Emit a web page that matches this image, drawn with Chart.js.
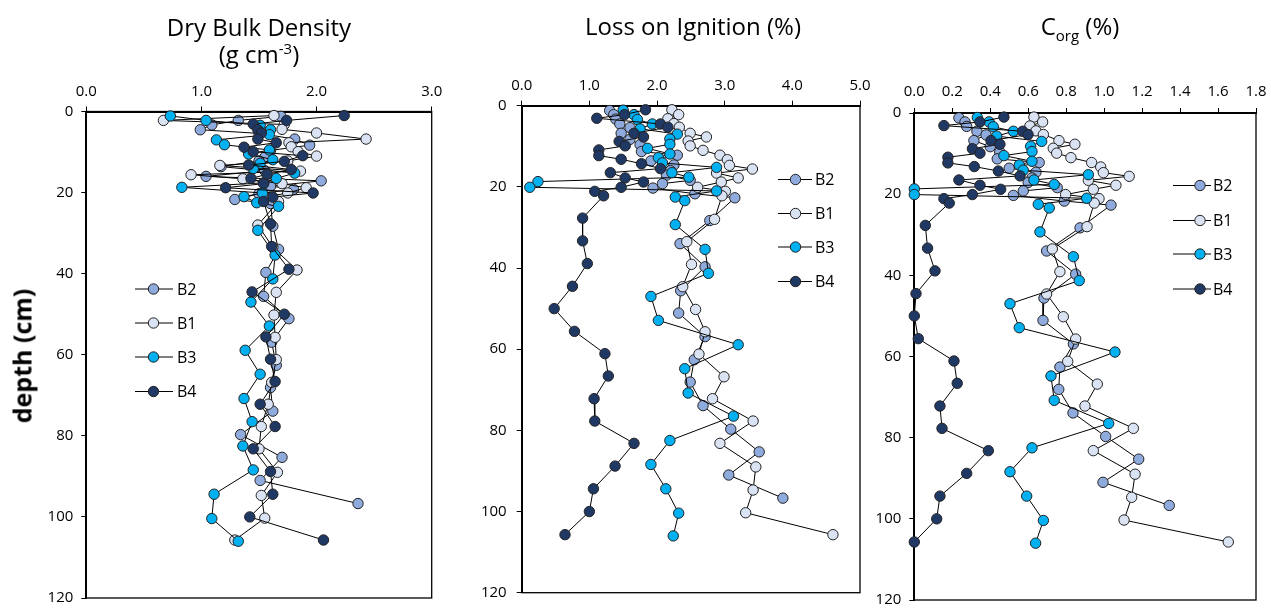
<!DOCTYPE html>
<html><head><meta charset="utf-8">
<script src="https://cdn.jsdelivr.net/npm/chart.js@4.4.1/dist/chart.umd.min.js"></script>
<style>
html,body{margin:0;padding:0;background:#fff;}
#wrap{position:relative;width:1271px;height:609px;overflow:hidden;font-family:'Open Sans',Lato,sans-serif;color:#000;}
canvas{position:absolute;left:0;top:0;}
.title{position:absolute;font-size:24px;line-height:24px;white-space:nowrap;transform:translateX(-50%);}
.title sup,.title sub{font-size:15px;line-height:0;}
.ylab{position:absolute;font-weight:bold;font-size:25px;line-height:25px;white-space:nowrap;left:22px;top:356px;transform:translate(-50%,-50%) rotate(-90deg);}
</style></head>
<body><div id="wrap">
<canvas id="c1" width="1271" height="609"></canvas>
<canvas id="c2" width="1271" height="609"></canvas>
<canvas id="c3" width="1271" height="609"></canvas>
<div class="title" style="left:259px;top:14.5px">Dry Bulk Density</div>
<div class="title" style="left:259px;top:41.5px">(g cm<sup>-3</sup>)</div>
<div class="title" style="left:693px;top:13.5px">Loss on Ignition (%)</div>
<div class="title" style="left:1080px;top:13.5px">C<sub>org</sub> (%)</div>
<div class="ylab">depth (cm)</div>
</div>
<script>
// ---------- depths (cm) per core ----------
const depthB1 = [1.0,2.2,3.2,4.4,5.3,6.8,7.7,8.7,9.9,11.0,12.2,13.3,14.7,15.6,16.6,17.8,18.8,20.1,21.1,22.2,28.0,33.5,39.1,44.6,50.2,55.7,61.2,66.8,72.2,77.7,83.2,89.0,94.7,100.3,105.7];
const depthB2 = [1.2,2.2,3.3,4.5,5.4,6.8,8.3,9.6,11.3,12.2,13.6,14.6,16.0,17.1,18.4,19.2,20.3,21.7,22.7,28.3,34.0,39.7,45.6,51.1,56.9,62.6,68.1,73.9,79.7,85.3,91.0,96.7];
const depthB3 = [1.1,2.2,3.4,4.5,5.7,7.0,8.2,9.5,10.5,11.9,12.8,14.1,15.2,16.5,17.6,18.7,20.1,21.0,22.5,23.4,29.3,35.4,41.3,47.0,52.9,58.9,64.8,70.8,76.5,82.5,88.4,94.4,100.4,106.0];
const depthB4 = [1.0,2.2,3.1,4.5,5.3,6.8,7.7,8.8,9.9,10.9,12.3,13.2,14.3,15.5,16.5,17.8,18.8,20.1,21.1,22.2,27.7,33.3,38.9,44.5,50.0,55.6,61.1,66.6,72.2,77.7,83.2,88.8,94.4,100.0,105.7];

// ---------- Dry bulk density (g cm-3) ----------
const dbdB1 = [1.63,0.67,1.72,1.70,2.00,2.43,1.76,1.78,1.84,2.00,1.75,1.16,1.86,0.91,1.36,1.70,1.91,1.75,1.55,1.67,1.49,1.62,1.83,1.65,1.63,1.64,1.65,1.61,1.58,1.52,1.50,1.66,1.52,1.55,1.29];
const dbdB2 = [1.69,1.32,1.09,0.99,1.50,1.81,1.94,1.60,1.55,1.50,1.17,1.55,1.04,2.04,1.60,1.80,1.50,1.29,1.60,1.62,1.67,1.56,1.54,1.76,1.61,1.65,1.60,1.62,1.34,1.70,1.51,2.36];
const dbdB3 = [0.73,1.04,1.51,1.60,1.59,1.13,1.20,1.59,1.41,1.62,1.51,1.45,1.81,1.65,1.54,0.83,1.53,1.37,1.48,1.67,1.49,1.64,1.62,1.43,1.59,1.38,1.51,1.37,1.44,1.36,1.45,1.11,1.09,1.32];
const dbdB4 = [2.24,1.74,1.45,1.49,1.52,1.49,1.65,1.37,1.45,1.88,1.72,1.41,1.78,1.57,1.43,1.54,1.21,1.97,1.62,1.54,1.60,1.61,1.76,1.44,1.72,1.56,1.60,1.64,1.51,1.64,1.45,1.60,1.62,1.42,2.06];

// ---------- Loss on ignition (%) ----------
const loiB1 = [2.22,2.32,2.16,2.25,2.33,2.49,2.73,2.46,2.49,2.68,2.93,3.04,3.07,3.41,2.88,3.20,2.95,2.60,3.01,2.96,2.85,2.44,2.51,2.38,2.57,2.71,2.62,2.99,2.82,3.42,2.93,3.46,3.42,3.31,4.60];
const loiB2 = [1.30,1.36,1.39,1.45,1.60,1.47,1.60,1.75,1.77,2.30,1.91,2.25,2.20,2.14,2.49,2.08,1.94,2.56,3.15,2.78,2.34,2.71,2.35,2.32,2.71,2.55,2.49,2.68,3.09,3.51,3.06,3.86];
const loiB3 = [1.50,1.66,1.71,1.93,1.75,2.30,2.19,2.19,1.86,2.19,2.02,2.08,2.88,2.22,2.47,0.24,0.12,2.88,2.27,2.41,2.27,2.71,2.76,1.91,2.02,3.20,2.41,2.46,3.13,2.19,1.91,2.13,2.32,2.24];
const loiB4 = [1.83,1.52,1.11,2.05,2.16,1.66,1.80,1.44,1.53,1.14,1.14,1.47,1.77,2.05,1.31,1.53,1.80,1.47,1.08,1.21,0.90,0.90,0.97,0.75,0.48,0.78,1.23,1.28,1.07,1.08,1.66,1.38,1.06,1.00,0.64];

// ---------- Organic carbon (%) ----------
const corgB1 = [0.630,0.676,0.609,0.641,0.680,0.762,0.846,0.732,0.750,0.825,0.934,0.982,0.996,1.132,0.917,1.062,0.943,0.797,0.973,0.948,0.910,0.727,0.767,0.697,0.785,0.850,0.808,0.964,0.899,1.154,0.943,1.163,1.145,1.105,1.654];
const corgB2 = [0.235,0.267,0.276,0.330,0.378,0.314,0.400,0.450,0.437,0.658,0.500,0.641,0.620,0.600,0.753,0.574,0.522,0.790,1.036,0.873,0.697,0.850,0.683,0.678,0.838,0.767,0.761,0.836,1.008,1.182,0.994,1.343];
const corgB3 = [0.332,0.394,0.416,0.522,0.434,0.671,0.613,0.620,0.472,0.620,0.553,0.574,0.917,0.630,0.737,0.0,0.0,0.908,0.653,0.711,0.662,0.838,0.869,0.504,0.553,1.057,0.720,0.737,1.024,0.620,0.504,0.592,0.680,0.639];
const corgB4 = [0.472,0.346,0.156,0.571,0.599,0.404,0.451,0.306,0.346,0.177,0.177,0.316,0.443,0.557,0.235,0.346,0.455,0.306,0.156,0.184,0.058,0.070,0.109,0.009,0.0,0.021,0.209,0.226,0.135,0.146,0.390,0.276,0.135,0.118,0.0];

// ---------- axes / labels ----------
const seriesNames = ['B2','B1','B3','B4'];
const depthTicks = [0,20,40,60,80,100,120];
const dbdTicks = [0.0,1.0,2.0,3.0];
const loiTicks = [0.0,1.0,2.0,3.0,4.0,5.0];
const corgTicks = [0.0,0.2,0.4,0.6,0.8,1.0,1.2,1.4,1.6,1.8];

const colors = {B1:'#DAE3F3', B2:'#8FAADC', B3:'#00B0F0', B4:'#203864'};
const depths = {B1:depthB1, B2:depthB2, B3:depthB3, B4:depthB4};
const FONT = "'Open Sans', Lato, sans-serif";

function pts(vals, ds){ return vals.map((v,i)=>({x:v, y:ds[i]})); }

const framePlugin = {
  id:'frame',
  beforeDatasetsDraw(chart){
    const a = chart.chartArea, c = chart.ctx;
    c.save(); c.strokeStyle='#000'; c.lineWidth=1.3;
    c.strokeRect(a.left, a.top, a.right-a.left, a.bottom-a.top);
    c.restore();
  }
};

function legendPlugin(lg){
  return {
    id:'customLegend',
    afterDraw(chart){
      const c = chart.ctx;
      c.save();
      seriesNames.forEach((k,i)=>{
        const y = lg.y[i];
        c.strokeStyle='#000'; c.lineWidth=1;
        c.beginPath(); c.moveTo(lg.x1,y); c.lineTo(lg.x2,y); c.stroke();
        c.beginPath(); c.arc(lg.mx,y,5.2,0,Math.PI*2);
        c.fillStyle=colors[k]; c.fill(); c.strokeStyle='#222'; c.stroke();
        c.fillStyle='#000'; c.font='16px '+FONT; c.textBaseline='middle'; c.textAlign='left';
        c.fillText(k, lg.tx, y+1);
      });
      c.restore();
    }
  };
}

function panel(id, cfg){
  const A = cfg.area, YW = 60, XH = 40;
  const datasets = seriesNames.map((k,i)=>({
    label:k, data:pts(cfg.vals[k], depths[k]), showLine:true,
    borderColor:'#000', borderWidth:1,
    pointRadius:5.2, pointHoverRadius:5.2, pointBackgroundColor:colors[k],
    pointBorderColor:'#222', pointBorderWidth:1, clip:false, order:4-i
  }));
  const tickFont = {family:FONT, size:15};
  new Chart(document.getElementById(id), {
    type:'scatter',
    data:{datasets},
    options:{
      responsive:false, animation:false, devicePixelRatio:1,
      events:[],
      layout:{autoPadding:false, padding:{left:A.l-YW, top:A.t-XH, right:1271-A.r, bottom:609-A.b}},
      plugins:{legend:{display:false}, tooltip:{enabled:false}},
      scales:{
        x:{type:'linear', position:'top', min:cfg.xTicks[0], max:cfg.xTicks[cfg.xTicks.length-1],
           afterBuildTicks(s){ s.ticks = cfg.xTicks.map(v=>({value:v})); },
           ticks:{autoSkip:false, maxRotation:0, callback:v=>Number(v).toFixed(1), font:tickFont, color:'#000', padding:cfg.xPad},
           grid:{drawOnChartArea:false, drawTicks:true, tickLength:5, color:'#000', lineWidth:1},
           border:{display:true, color:'#000', width:2},
           afterFit(s){ s.height = XH; s.paddingLeft = 0; s.paddingRight = 0; s.paddingTop = 0; s.paddingBottom = 0; }},
        y:{type:'linear', position:'left', reverse:true, min:0, max:120,
           afterBuildTicks(s){ s.ticks = depthTicks.map(v=>({value:v})); },
           ticks:{autoSkip:false, font:tickFont, color:'#000', padding:cfg.yPad},
           grid:{drawOnChartArea:false, drawTicks:true, tickLength:5, color:'#000', lineWidth:1},
           border:{display:true, color:'#000', width:2},
           afterFit(s){ s.width = YW; s.paddingLeft = 0; s.paddingRight = 0; s.paddingTop = 0; s.paddingBottom = 0; }}
      }
    },
    plugins:[framePlugin, legendPlugin(cfg.legend)]
  });
}

panel('c1', {
  area:{l:86.3, t:111.5, r:431.7, b:598}, xTicks:dbdTicks, xPad:6, yPad:8,
  vals:{B1:dbdB1, B2:dbdB2, B3:dbdB3, B4:dbdB4},
  legend:{x1:135, x2:173, mx:153.5, tx:177, y:[289,323,357,391.5]}
});
panel('c2', {
  area:{l:521.7, t:105.7, r:860, b:592.7}, xTicks:loiTicks, xPad:6, yPad:10,
  vals:{B1:loiB1, B2:loiB2, B3:loiB3, B4:loiB4},
  legend:{x1:778, x2:812, mx:795.5, tx:815, y:[179.5,213.5,247,281.5]}
});
panel('c3', {
  area:{l:914.3, t:113, r:1256, b:600}, xTicks:corgTicks, xPad:7, yPad:8,
  vals:{B1:corgB1, B2:corgB2, B3:corgB3, B4:corgB4},
  legend:{x1:1173, x2:1211, mx:1200, tx:1213, y:[185.5,220.5,254,289]}
});
</script>
</body></html>
